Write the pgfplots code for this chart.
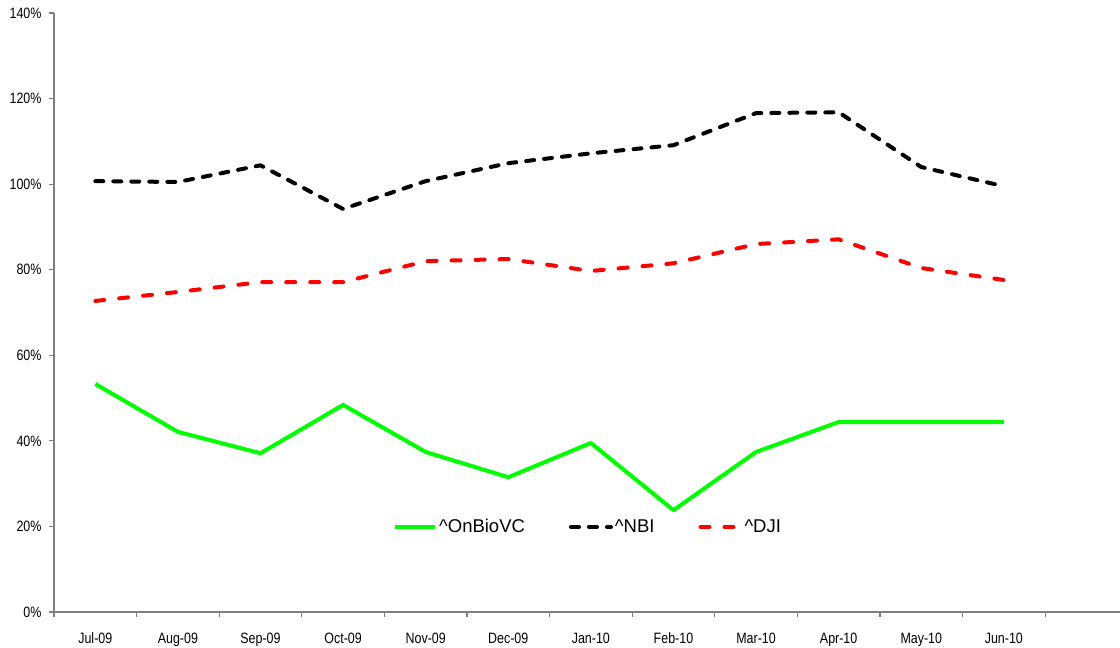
\documentclass[border=0pt]{standalone}
\usepackage{fontspec}
\setmainfont{Liberation Sans}
\newfontfamily\tickfont[FakeStretch=0.83]{Liberation Sans}
\usepackage{pgfplots}
\pgfplotsset{compat=1.18}
\definecolor{axgray}{HTML}{808080}
\definecolor{cGreen}{HTML}{00FF00}
\definecolor{cRed}{HTML}{FF0000}

\pgfplotstableread{
x onbio nbi dji
0 53.3 100.7 72.7
1 42.1 100.5 74.8
2 37.1 104.4 77.1
3 48.4 94.2 77.1
4 37.4 100.7 82.0
5 31.5 104.9 82.5
6 39.5 107.2 79.7
7 23.8 109.1 81.5
8 37.4 116.6 86.0
9 44.4 116.8 87.1
10 44.4 104.0 80.4
11 44.4 99.5 77.6
}\datatable

\begin{document}
\begin{tikzpicture}
\useasboundingbox (-54pt,-36pt) rectangle (1066pt,612pt);
\begin{axis}[
  scale only axis, width=1066pt, height=599pt,
  xmin=-0.5, xmax=12.406, ymin=0, ymax=140,
  axis x line*=bottom, axis y line*=left,
  axis line style={draw=axgray, line width=2pt},
  every tick/.style={draw=axgray, line width=1.2pt},
  tick align=outside, major tick length=5pt,
  xtick={-0.5,0.5,...,11.5}, xticklabels={},
  extra x ticks={0,...,11},
  extra x tick labels={Jul-09,Aug-09,Sep-09,Oct-09,Nov-09,Dec-09,Jan-10,Feb-10,Mar-10,Apr-10,May-10,Jun-10},
  extra x tick style={major tick length=0pt},
  ytick={0,20,...,140},
  yticklabel={\pgfmathprintnumber{\tick}\%},
  /pgf/number format/assume math mode=true,
  tick label style={font=\tickfont\fontsize{15}{17}\selectfont},
  x tick label style={yshift=-17pt},
  y tick label style={xshift=-4pt},
  legend style={draw=none, fill=none, at={(0.501,0.142)}, anchor=center,
    font=\fontsize{18.5}{21}\selectfont, legend columns=3,
    /tikz/every even column/.append style={column sep=42pt}},
  legend image code/.code={\draw[#1] (0pt,0pt) -- (40pt,0pt);},
]
\addplot[cGreen, line width=4pt, line join=round] table[x=x,y=onbio] {\datatable};
\addlegendentry{\^{}OnBioVC}
\addplot[black, line width=4pt, line join=round, line cap=round, dash pattern=on 8pt off 10pt] table[x=x,y=nbi] {\datatable};
\addlegendentry{\^{}NBI}
\addplot[cRed, line width=4pt, line join=round, line cap=round, dash pattern=on 9pt off 15pt] table[x=x,y=dji] {\datatable};
\addlegendentry{\^{}DJI}
\end{axis}
\end{tikzpicture}
\end{document}
